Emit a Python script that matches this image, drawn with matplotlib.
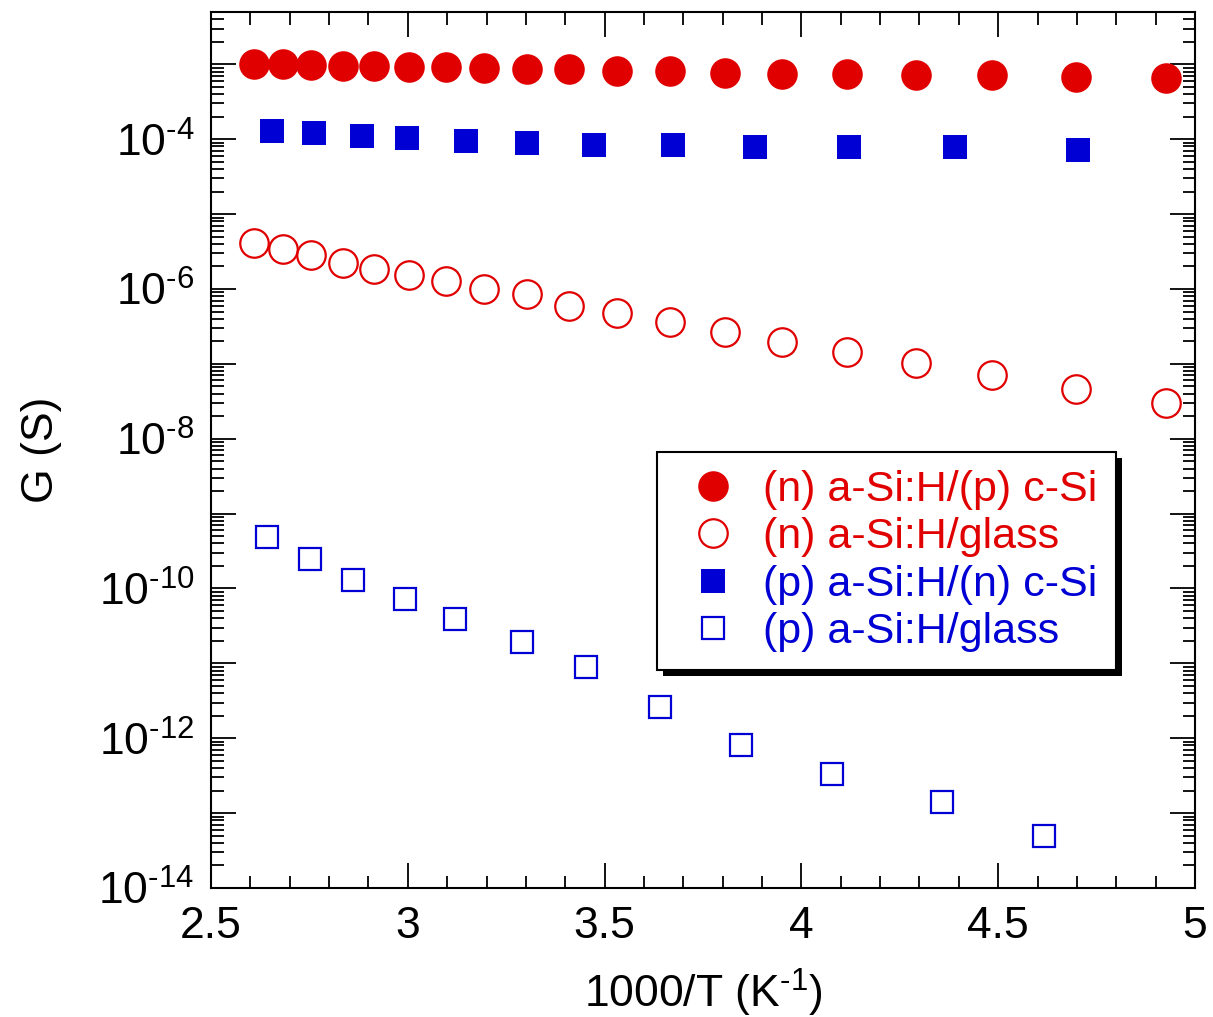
import math
import matplotlib
matplotlib.use("Agg")
import matplotlib.pyplot as plt
import matplotlib.ticker as mticker
import matplotlib.patheffects as pe

plt.rcParams['font.family'] = ['Liberation Sans', 'DejaVu Sans']
plt.rcParams['mathtext.fontset'] = 'custom'
plt.rcParams['mathtext.rm'] = 'Liberation Sans'
plt.rcParams['mathtext.it'] = 'Liberation Sans'
plt.rcParams['mathtext.default'] = 'regular'

RED = '#e00000'
BLUE = '#0000d4'
HY = '\u2010'  # short hyphen used in exponents

# (n) a-Si:H/(p) c-Si  (filled red circles)
x_n_csi = [2.609, 2.683, 2.754, 2.835, 2.914, 3.003, 3.097, 3.194, 3.303, 3.410,
           3.532, 3.666, 3.806, 3.951, 4.116, 4.291, 4.484, 4.698, 4.926]
g_n_csi = [1.00e-3, 1.00e-3, 9.7e-4, 9.4e-4, 9.4e-4, 9.1e-4, 9.1e-4, 8.8e-4, 8.6e-4, 8.6e-4,
           8.1e-4, 8.1e-4, 7.6e-4, 7.35e-4, 7.35e-4, 7.1e-4, 7.1e-4, 6.7e-4, 6.5e-4]

# (n) a-Si:H/glass  (open red circles)
x_n_glass = [2.609, 2.683, 2.754, 2.835, 2.914, 3.003, 3.097, 3.194, 3.303, 3.410,
             3.532, 3.666, 3.806, 3.951, 4.116, 4.291, 4.484, 4.698, 4.926]
g_n_glass = [4.05e-6, 3.47e-6, 2.80e-6, 2.25e-6, 1.82e-6, 1.56e-6, 1.26e-6, 1.01e-6, 8.7e-7, 6.0e-7,
             4.83e-7, 3.67e-7, 2.69e-7, 1.98e-7, 1.46e-7, 1.04e-7, 7.2e-8, 4.66e-8, 3.03e-8]

# (p) a-Si:H/(n) c-Si  (filled blue squares)
x_p_csi = [2.655, 2.762, 2.884, 2.998, 3.148, 3.303, 3.473, 3.674, 3.882, 4.121, 4.390, 4.703]
g_p_csi = [1.27e-4, 1.20e-4, 1.09e-4, 1.03e-4, 9.35e-5, 8.8e-5, 8.26e-5, 8.26e-5,
           7.77e-5, 7.77e-5, 7.77e-5, 7.08e-5]

# (p) a-Si:H/glass  (open blue squares)
x_p_glass = [2.642, 2.752, 2.861, 2.993, 3.120, 3.290, 3.453, 3.641, 3.847, 4.078, 4.357, 4.616]
g_p_glass = [4.9e-10, 2.49e-10, 1.30e-10, 7.26e-11, 3.93e-11, 1.93e-11, 8.95e-12, 2.61e-12,
             8.1e-13, 3.32e-13, 1.40e-13, 4.93e-14]

labels = ['(n) a-Si:H/(p) c-Si', '(n) a-Si:H/glass', '(p) a-Si:H/(n) c-Si', '(p) a-Si:H/glass']

fig = plt.figure(figsize=(12.13, 10.17), dpi=100)
ax = fig.add_axes([211/1213, 1-888/1017, (1195-211)/1213, (888-12)/1017])

ms_c = 22
ms_s = 17.5
ax.plot(x_n_csi, g_n_csi, 'o', ls='none', ms=ms_c, mfc=RED, mec=RED, mew=0, label=labels[0])
ax.plot(x_n_glass, g_n_glass, 'o', ls='none', ms=ms_c - 1.5, mfc='none', mec=RED, mew=1.6, label=labels[1])
ax.plot(x_p_csi, g_p_csi, 's', ls='none', ms=ms_s, mfc=BLUE, mec=BLUE, mew=0, label=labels[2])
ax.plot(x_p_glass, g_p_glass, 's', ls='none', ms=ms_s - 1.5, mfc='none', mec=BLUE, mew=1.6, label=labels[3])

ax.set_yscale('log')
ax.set_xlim(2.5, 5.0)
ax.set_ylim(1e-14, 5e-3)

ax.xaxis.set_major_locator(mticker.MultipleLocator(0.5))
ax.xaxis.set_minor_locator(mticker.MultipleLocator(0.1))
ax.xaxis.set_major_formatter(mticker.FuncFormatter(lambda v, p: ('%g' % v)))

ax.yaxis.set_major_locator(mticker.LogLocator(base=10, numticks=40))
ax.yaxis.set_minor_locator(mticker.LogLocator(base=10, subs=range(2, 10), numticks=40))


def yfmt(v, p):
    e = int(round(math.log10(v)))
    if e % 2 == 0:
        return r'$10^{%s%d}$' % (HY if e < 0 else '', abs(e))
    return ''


ax.yaxis.set_major_formatter(mticker.FuncFormatter(yfmt))
ax.yaxis.set_minor_formatter(mticker.NullFormatter())

for s in ax.spines.values():
    s.set_linewidth(1.5)
ax.tick_params(which='both', direction='in', top=True, right=True, width=1.3, labelsize=32)
ax.tick_params(which='major', length=18)
ax.tick_params(which='minor', length=9)
ax.tick_params(axis='x', which='major', pad=13)
ax.tick_params(axis='y', which='major', pad=12)

ax.set_xlabel(r'1000/T (K$^{%s1}$)' % HY, fontsize=32, labelpad=14)
ax.set_ylabel('G (S)', fontsize=32)
ax.yaxis.set_label_coords((62 - 211) / 984, 0.5)

leg = ax.legend(loc='upper left', bbox_to_anchor=((657-211)/984, (888-452)/876),
                borderaxespad=0, fontsize=31, frameon=True, fancybox=False,
                edgecolor='black', framealpha=1, borderpad=0.42, handlelength=1.75,
                handletextpad=0.3, labelspacing=0.17, numpoints=1)
leg.get_frame().set_linewidth(1.5)
leg.get_frame().set_path_effects([pe.withSimplePatchShadow(offset=(4.5, -4.5), shadow_rgbFace='black', alpha=1.0)])
for t, c in zip(leg.get_texts(), [RED, RED, BLUE, BLUE]):
    t.set_color(c)

fig.savefig('out.png', dpi=100)
